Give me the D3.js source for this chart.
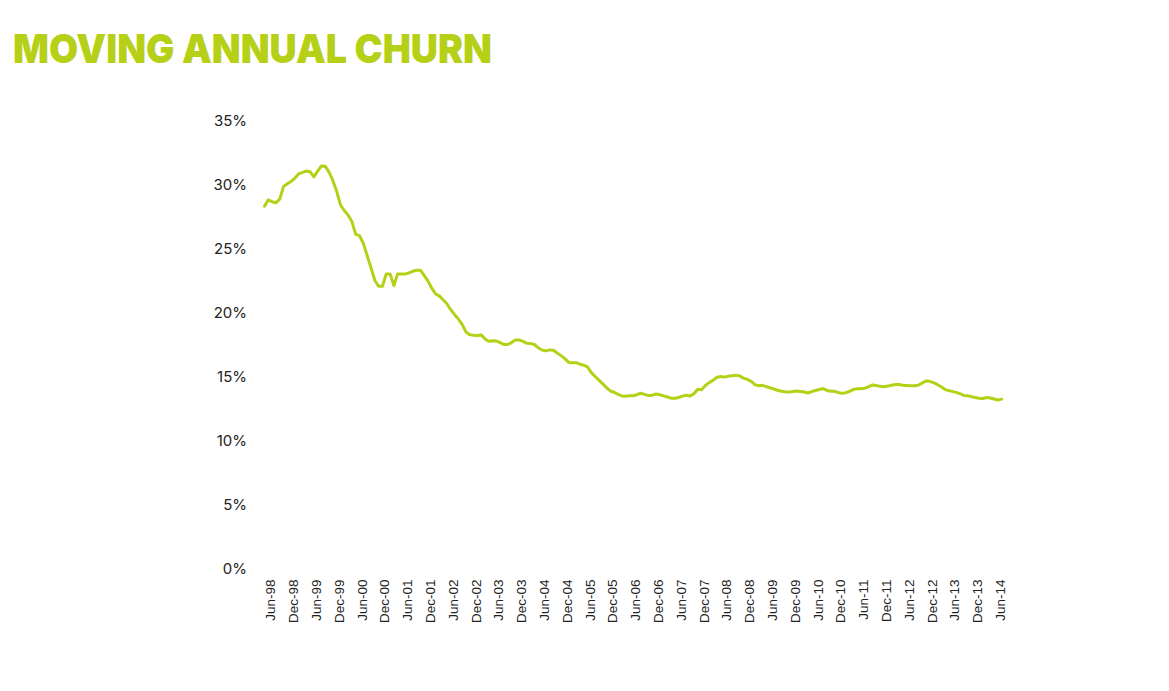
<!DOCTYPE html>
<html>
<head>
<meta charset="utf-8">
<script src="https://cdn.jsdelivr.net/npm/d3@7"></script>
<style>
  body { margin: 0; background: #fff; }
  .xlab text { font-family: "Liberation Sans", Arial, sans-serif; font-size: 13.5px; fill: #222; }
  .ylab text { font-family: Inter, Roboto, sans-serif; font-size: 15px; fill: #222; }
</style>
</head>
<body>
<script>
// chart data: monthly moving annual churn, first value is Apr-98
var startMonth = "Apr-98";

var churn = [
  28.3, 28.8, 28.65, 28.57, 28.85, 29.85, 30.05, 30.25, 30.5, 30.85,
  30.95, 31.05, 31.0, 30.6, 31.05, 31.45, 31.42, 30.95, 30.3, 29.45,
  28.4, 27.95, 27.6, 27.1, 26.1, 26.0, 25.4, 24.45, 23.5, 22.5,
  22.05, 22.05, 23.0, 23.0, 22.1, 23.0, 23.0, 23.0, 23.1, 23.22,
  23.3, 23.3, 22.9, 22.45, 21.9, 21.45, 21.28, 21.0, 20.68, 20.23,
  19.85, 19.5, 19.07, 18.47, 18.27, 18.22, 18.2, 18.25, 17.93, 17.76,
  17.8, 17.78, 17.65, 17.5, 17.5, 17.65, 17.85, 17.86, 17.75, 17.6,
  17.57, 17.5, 17.25, 17.07, 17.0, 17.08, 17.05, 16.83, 16.63, 16.4,
  16.1, 16.08, 16.08, 15.97, 15.88, 15.75, 15.3, 15.0, 14.72, 14.42,
  14.12, 13.87, 13.77, 13.6, 13.48, 13.46, 13.49, 13.5, 13.58, 13.69,
  13.6, 13.52, 13.54, 13.63, 13.57, 13.49, 13.4, 13.31, 13.3, 13.36,
  13.47, 13.54, 13.47, 13.65, 14.0, 13.97, 14.3, 14.52, 14.7, 14.92,
  15.0, 14.95, 15.02, 15.05, 15.1, 15.05, 14.87, 14.78, 14.63, 14.37,
  14.28, 14.31, 14.21, 14.12, 14.02, 13.93, 13.85, 13.81, 13.78, 13.83,
  13.86, 13.83, 13.79, 13.71, 13.82, 13.91, 13.98, 14.06, 13.91, 13.85,
  13.84, 13.75, 13.68, 13.74, 13.85, 13.99, 14.04, 14.04, 14.09, 14.2,
  14.34, 14.29, 14.23, 14.2, 14.25, 14.32, 14.38, 14.37, 14.32, 14.3,
  14.27, 14.27, 14.32, 14.48, 14.65, 14.62, 14.52, 14.38, 14.2, 14.0,
  13.9, 13.84, 13.76, 13.66, 13.52, 13.5, 13.43, 13.36, 13.3, 13.28,
  13.36, 13.32, 13.24, 13.16, 13.23
];

var xTickLabels = [
  "Jun-98", "Dec-98", "Jun-99", "Dec-99", "Jun-00", "Dec-00", "Jun-01", "Dec-01",
  "Jun-02", "Dec-02", "Jun-03", "Dec-03", "Jun-04", "Dec-04", "Jun-05", "Dec-05",
  "Jun-06", "Dec-06", "Jun-07", "Dec-07", "Jun-08", "Dec-08", "Jun-09", "Dec-09",
  "Jun-10", "Dec-10", "Jun-11", "Dec-11", "Jun-12", "Dec-12", "Jun-13", "Dec-13",
  "Jun-14"
];

var yTicks = [0, 5, 10, 15, 20, 25, 30, 35];

var titleText = "MOVING ANNUAL CHURN";
var lime = "#b5d016";

var width = 1169, height = 691;
var parseMonth = d3.timeParse("%b-%y");
var start = parseMonth(startMonth);

var data = churn.map(function(v, i) {
  return { date: d3.timeMonth.offset(start, i), value: v };
});

var svg = d3.select("body").append("svg")
    .attr("width", width)
    .attr("height", height);

// title
svg.append("text")
    .attr("x", 13)
    .attr("y", 63)
    .attr("font-family", "Inter, 'DejaVu Sans', sans-serif")
    .attr("font-weight", 900)
    .attr("font-size", 40)
    .attr("fill", lime)
    .attr("textLength", 479)
    .attr("lengthAdjust", "spacingAndGlyphs")
    .text(titleText);

// scales
var xScale = d3.scaleTime()
    .domain(d3.extent(data, function(d) { return d.date; }))
    .range([264.5, 1001.7]);

var yScale = d3.scaleLinear()
    .domain([0, 35])
    .range([568.5, 120.5]);

// y axis labels only
var yAxis = svg.append("g")
    .attr("class", "ylab")
    .attr("transform", "translate(247,0)")
    .call(d3.axisLeft(yScale)
        .tickValues(yTicks)
        .tickSize(0)
        .tickPadding(0)
        .tickFormat(function(d) { return d + "%"; }));
yAxis.select(".domain").remove();

// x axis labels, rotated
var xAxis = svg.append("g")
    .attr("class", "xlab")
    .attr("transform", "translate(0," + yScale(0) + ")")
    .call(d3.axisBottom(xScale)
        .tickValues(xTickLabels.map(parseMonth))
        .tickSize(0)
        .tickFormat(function(d, i) { return xTickLabels[i]; }));
xAxis.select(".domain").remove();
xAxis.selectAll("text")
    .attr("transform", "rotate(-90)")
    .attr("text-anchor", "end")
    .attr("x", -11)
    .attr("y", -2)
    .attr("dy", "0.35em");

// the churn line
var line = d3.line()
    .x(function(d) { return xScale(d.date); })
    .y(function(d) { return yScale(d.value); });

svg.append("path")
    .datum(data)
    .attr("fill", "none")
    .attr("stroke", lime)
    .attr("stroke-width", 3)
    .attr("stroke-linejoin", "round")
    .attr("stroke-linecap", "round")
    .attr("d", line);
</script>
</body>
</html>
